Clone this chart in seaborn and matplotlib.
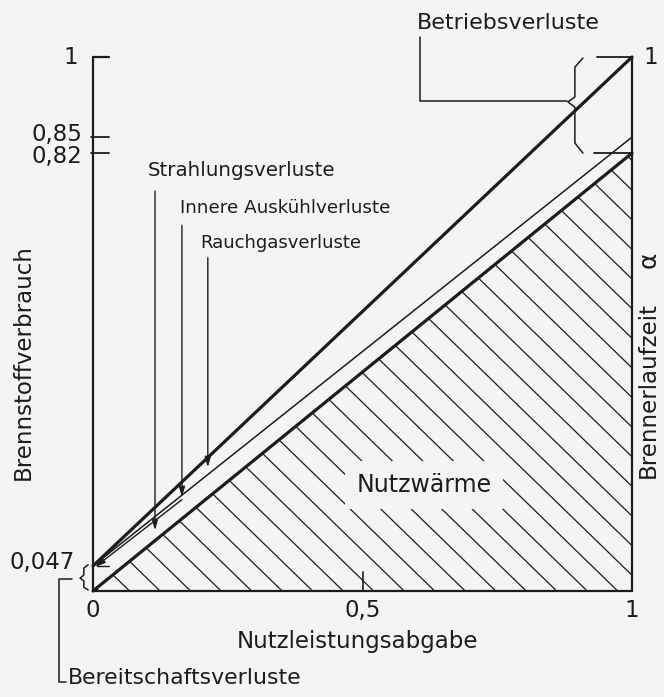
import numpy as np
import pandas as pd
import matplotlib
matplotlib.use("Agg")
import matplotlib.pyplot as plt
from matplotlib.patches import Polygon
import seaborn as sns

# values
x_ends = [0.0, 1.0]
brennstoff = [0.047, 1.0]          # Brennstoffverbrauch
innen_linie = [0.047, 0.85]        # thin line
nutzwaerme = [0.0, 0.82]           # top of hatched area

y_ticks = [1.0, 0.85, 0.82, 0.047]
y_labels = ["1", "0,85", "0,82", "0,047"]
x_ticks = [0.0, 0.5, 1.0]
x_labels = ["0", "0,5", "1"]

bg = "#f4f4f4"
ink = "#1c1c1c"

sns.set_theme(style="white", rc={"figure.facecolor": bg, "axes.facecolor": bg})
plt.rcParams['font.family'] = ['DejaVu Sans']

fig = plt.figure(figsize=(6.64, 6.97), dpi=100)
ax = fig.add_axes([0, 0, 1, 1])
ax.set_xlim(-93 / 539, (664 - 93) / 539)
ax.set_ylim((591 - 697) / 534, 591 / 534)
ax.axis("off")

df = pd.DataFrame({"x": x_ends, "b": brennstoff, "i": innen_linie, "n": nutzwaerme})
sns.lineplot(data=df, x="x", y="b", ax=ax, color=ink, lw=2.3, legend=False)
sns.lineplot(data=df, x="x", y="i", ax=ax, color=ink, lw=1.1, legend=False)
sns.lineplot(data=df, x="x", y="n", ax=ax, color=ink, lw=2.3, legend=False)

# hatched Nutzwärme triangle
tri = Polygon([(0, 0), (1, 0), (1, nutzwaerme[1])], closed=True,
              facecolor="none", edgecolor="none")
ax.add_patch(tri)
k = 0.98
step = 0.0566
for c in np.arange(0.2 * step, 1 + 0.82 / k + step, step):
    ln, = ax.plot([c, c - 1.2], [0, 1.2 * k], color=ink, lw=0.9, zorder=1)
    ln.set_clip_path(tri)

# frame lines
ax.plot([0, 0], [0, 1], color=ink, lw=1.6)
ax.plot([0, 1], [0, 0], color=ink, lw=1.6)
ax.plot([1, 1], [0, 1], color=ink, lw=1.6)

# y ticks and labels
ax.plot([0, 0.03], [1, 1], color=ink, lw=1.6)
for yv in [0.85, 0.82]:
    ax.plot([-0.004, 0.03], [yv, yv], color=ink, lw=1.3)
ax.plot([0.008, 0.03], [0.047, 0.047], color=ink, lw=1.0)
label_pos = {"1": (-0.028, 1.0), "0,85": (-0.02, 0.854),
             "0,82": (-0.02, 0.813), "0,047": (-0.033, 0.054)}
for lab in y_labels:
    px, py = label_pos[lab]
    ax.text(px, py, lab, ha="right", va="center", fontsize=16.5, color=ink)

# x ticks and labels
ax.plot([0.5, 0.5], [0, 0.036], color=ink, lw=1.2)
for xv, lab in zip(x_ticks, x_labels):
    ax.text(xv, -0.037, lab, ha="center", va="center", fontsize=16.5, color=ink)

ax.text(0.49, -0.094, "Nutzleistungsabgabe", ha="center", va="center",
        fontsize=16.5, color=ink)
ax.text(-0.13, 0.429, "Brennstoffverbrauch", ha="center", va="center",
        rotation=90, fontsize=16.5, color=ink)
ax.text(1.03, 0.376, "Brennerlaufzeit", ha="center", va="center",
        rotation=90, fontsize=16.5, color=ink)
ax.text(1.03, 0.62, "α", ha="center", va="center", rotation=90,
        fontsize=18, color=ink)
ax.text(1.022, 1.0, "1", ha="left", va="center", fontsize=16.5, color=ink)

ax.text(0.614, 0.199, "Nutzwärme", ha="center", va="center", fontsize=17,
        color=ink, zorder=3,
        bbox=dict(boxstyle="square,pad=0.5", facecolor=bg, edgecolor="none"))

# Betriebsverluste bracket on the right
ax.plot([0.935, 1], [1, 1], color=ink, lw=1.3)
ax.plot([0.929, 1], [0.82, 0.82], color=ink, lw=1.3)
ax.plot([0.909, 0.894, 0.894, 0.881, 0.894, 0.894, 0.909],
        [0.998, 0.981, 0.925, 0.916, 0.906, 0.839, 0.820], color=ink, lw=1.1)
ax.plot([0.607, 0.607, 0.879], [1.037, 0.918, 0.918], color=ink, lw=1.1)
ax.text(0.77, 1.064, "Betriebsverluste", ha="center", va="center",
        fontsize=16, color=ink)

# Bereitschaftsverluste brace at the origin
ax.plot([-0.009, -0.017, -0.017, -0.024, -0.017, -0.017, -0.009],
        [0.049, 0.043, 0.030, 0.024, 0.019, 0.007, 0.002], color=ink, lw=1.1)
ax.plot([-0.039, -0.063, -0.063, -0.05], [0.022, 0.022, -0.170, -0.170],
        color=ink, lw=1.1)
ax.text(-0.046, -0.163, "Bereitschaftsverluste", ha="left", va="center",
        fontsize=15.8, color=ink)

# loss labels with leader arrows
arrow = dict(arrowstyle="-|>,head_length=0.5,head_width=0.15", color=ink,
             lw=1.0, shrinkA=0, shrinkB=0)
ax.text(0.102, 0.787, "Strahlungsverluste", ha="left", va="center",
        fontsize=14.3, color=ink)
ax.annotate("", xy=(0.115, 0.114), xytext=(0.115, 0.749), arrowprops=arrow)
ax.text(0.161, 0.717, "Innere Auskühlverluste", ha="left", va="center",
        fontsize=13.2, color=ink)
ax.annotate("", xy=(0.165, 0.176), xytext=(0.165, 0.685), arrowprops=arrow)
ax.text(0.199, 0.652, "Rauchgasverluste", ha="left", va="center",
        fontsize=13, color=ink)
ax.annotate("", xy=(0.213, 0.232), xytext=(0.213, 0.624), arrowprops=arrow)
ax.annotate("", xy=(0.004, 0.045), xytext=(0.165, 0.171), arrowprops=arrow)

fig.savefig("out.png", dpi=100, facecolor=bg)
